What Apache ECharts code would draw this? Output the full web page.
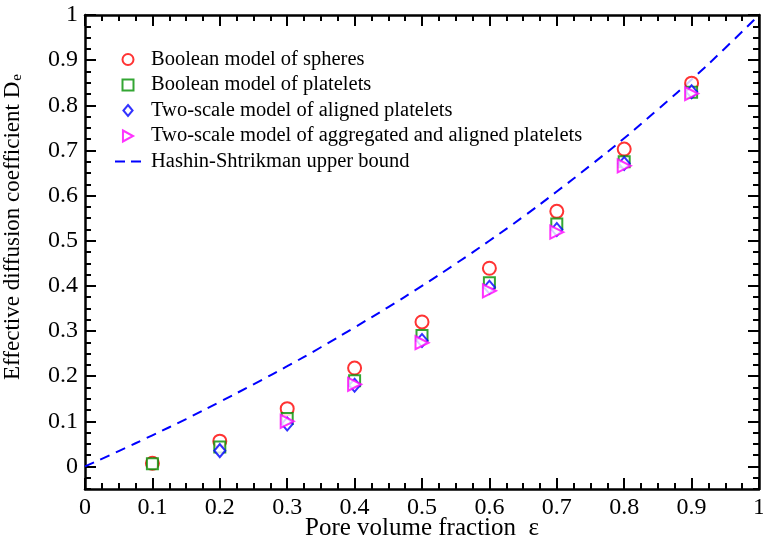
<!DOCTYPE html>
<html><head><meta charset="utf-8">
<script src="https://cdn.jsdelivr.net/npm/echarts@6/dist/echarts.min.js"></script>
<style>html,body{margin:0;padding:0;background:#fff}#c{width:763px;height:542px}</style>
</head><body><div id="c"></div>
<script>
const porosity = [0.1, 0.2, 0.3, 0.4, 0.5, 0.6, 0.7, 0.8, 0.9];
const spheres = [0.007, 0.056, 0.128, 0.218, 0.320, 0.439, 0.565, 0.703, 0.849];
const platelets = [0.006, 0.043, 0.106, 0.190, 0.290, 0.407, 0.537, 0.675, 0.829];
const alignedX = [0.2, 0.3, 0.4, 0.5, 0.6, 0.7, 0.8, 0.9];
const aligned = [0.035, 0.094, 0.180, 0.279, 0.397, 0.525, 0.671, 0.830];
const aggregatedX = [0.3, 0.4, 0.5, 0.6, 0.7, 0.8, 0.9];
const aggregated = [0.100, 0.182, 0.274, 0.389, 0.519, 0.666, 0.826];
const hsX = [0, 0.05, 0.1, 0.15, 0.2, 0.25, 0.3, 0.35, 0.4, 0.45, 0.5, 0.55, 0.6, 0.65, 0.7, 0.75, 0.8, 0.85, 0.9, 0.95, 1];
const hsY = [0, 0.034, 0.069, 0.105, 0.143, 0.182, 0.222, 0.264, 0.308, 0.353, 0.400, 0.449, 0.500, 0.553, 0.609, 0.667, 0.727, 0.791, 0.857, 0.927, 1];
const yTicks = [0, 0.1, 0.2, 0.3, 0.4, 0.5, 0.6, 0.7, 0.8, 0.9, 1];
const names = ['Boolean model of spheres', 'Boolean model of platelets', 'Two-scale model of aligned platelets', 'Two-scale model of aggregated and aligned platelets', 'Hashin-Shtrikman upper bound'];

const FONT = 'Liberation Serif';
const chart = echarts.init(document.getElementById('c'));
const pair = (xs, ys) => xs.map((x, i) => [x, ys[i]]);
const lineBlack = {show: true, onZero: false, lineStyle: {color: '#000', width: 2.5}};
const MAJ = 11, MIN = 6;
const tickStyle = {color: '#000', width: 2};
const G = {left: 85, right: 4, top: 15, bottom: 53, containLabel: false, outerBoundsMode: 'none'};

const xs = [], ys = [];
// grid 0: frame lines + labels
xs.push({gridIndex: 0, type: 'value', min: 0, max: 1, interval: 0.1, position: 'bottom',
  name: 'Pore volume fraction  ε', nameLocation: 'middle', nameGap: 27, nameMoveOverlap: false,
  nameTextStyle: {fontFamily: FONT, fontSize: 25, color: '#000'},
  axisLine: lineBlack, splitLine: {show: false}, axisTick: {show: false},
  axisLabel: {show: true, fontFamily: FONT, fontSize: 24, color: '#000', margin: 7}});
xs.push({gridIndex: 0, type: 'value', min: 0, max: 1, interval: 0.1, position: 'top',
  axisLine: lineBlack, splitLine: {show: false}, axisTick: {show: false}, axisLabel: {show: false}});
ys.push({gridIndex: 0, type: 'value', min: -0.05, max: 1, position: 'left',
  name: '{n|Effective diffusion coefficient D}{s|e}', nameLocation: 'middle', nameGap: 60, nameMoveOverlap: false,
  nameTextStyle: {fontFamily: FONT, fontSize: 23, color: '#000', padding: [0, 0, 0, 50],
    rich: {n: {fontFamily: FONT, fontSize: 23, color: '#000'}, s: {fontFamily: FONT, fontSize: 15, color: '#000', verticalAlign: 'bottom', padding: [10, 0, 0, 1]}}},
  axisLine: lineBlack, splitLine: {show: false}, axisTick: {show: false},
  axisLabel: {show: true, customValues: yTicks, fontFamily: FONT, fontSize: 24, color: '#000', margin: 7}});
ys.push({gridIndex: 0, type: 'value', min: -0.05, max: 1, position: 'right',
  axisLine: lineBlack, splitLine: {show: false}, axisTick: {show: false}, axisLabel: {show: false}});

// grids 1, 2: tick-only axes shifted inside the frame so their outward ticks point inward from the frame
[[1, MAJ], [2, MIN]].forEach(([gi, len]) => {
  const major = gi === 1;
  ['bottom', 'top'].forEach(pos => xs.push({gridIndex: gi, type: 'value', min: 0, max: 1,
    interval: major ? 0.1 : 0.025, position: pos, offset: -len,
    axisLine: {show: false, onZero: false}, splitLine: {show: false}, axisLabel: {show: false},
    axisTick: {show: true, inside: false, length: len, lineStyle: tickStyle}}));
  ['left', 'right'].forEach(pos => {
    const ax = {gridIndex: gi, type: 'value', min: -0.05, max: 1, position: pos, offset: -len,
      axisLine: {show: false, onZero: false}, splitLine: {show: false}, axisLabel: {show: false},
      axisTick: {show: true, inside: false, length: len, lineStyle: tickStyle}};
    if (major) ax.axisTick.customValues = yTicks; else ax.interval = 0.025;
    ys.push(ax);
  });
});

chart.setOption({
  animation: false,
  backgroundColor: '#fff',
  grid: [G, G, G],
  legend: {
    orient: 'vertical', left: 110, top: 44, itemWidth: 26, itemHeight: 11, itemGap: 4.5,
    symbolKeepAspect: true,
    textStyle: {fontFamily: FONT, fontSize: 20.5, lineHeight: 11, color: '#000', padding: [0, 0, 0, 5]},
    data: [
      {name: names[0], icon: 'circle'},
      {name: names[1], icon: 'path://M0,0L10,0L10,10L0,10Z'},
      {name: names[2], icon: 'path://M5,0L10,6L5,12L0,6Z'},
      {name: names[3], icon: 'path://M0,0L11,6L0,12Z'},
      {name: names[4], icon: 'path://M0,0L10,0L10,2L0,2Z M16,0L26,0L26,2L16,2Z'}
    ]
  },
  xAxis: xs,
  yAxis: ys,
  series: [
    {name: names[4], type: 'line', xAxisIndex: 0, yAxisIndex: 0, data: pair(hsX, hsY), symbol: 'none', showSymbol: false, smooth: true,
     lineStyle: {color: '#0000ff', width: 2, type: [10, 7]}, itemStyle: {color: '#0000ff'}, z: 1},
    {name: names[0], type: 'scatter', xAxisIndex: 0, yAxisIndex: 0, data: pair(porosity, spheres), symbol: 'circle', symbolSize: 13,
     itemStyle: {color: '#fff', borderColor: '#ff0000', borderWidth: 2}, z: 2},
    {name: names[1], type: 'scatter', xAxisIndex: 0, yAxisIndex: 0, data: pair(porosity, platelets), symbol: 'rect', symbolSize: 11,
     itemStyle: {color: '#fff', borderColor: '#009000', borderWidth: 2}, z: 3},
    {name: names[2], type: 'scatter', xAxisIndex: 0, yAxisIndex: 0, data: pair(alignedX, aligned), symbol: 'diamond', symbolSize: [11, 13],
     itemStyle: {color: '#fff', borderColor: '#0000ff', borderWidth: 2}, z: 4},
    {name: names[3], type: 'scatter', xAxisIndex: 0, yAxisIndex: 0, data: pair(aggregatedX, aggregated), symbol: 'triangle', symbolSize: 13, symbolRotate: -90,
     itemStyle: {color: '#fff', borderColor: '#ff00ff', borderWidth: 2}, z: 5}
  ]
});
</script></body></html>
